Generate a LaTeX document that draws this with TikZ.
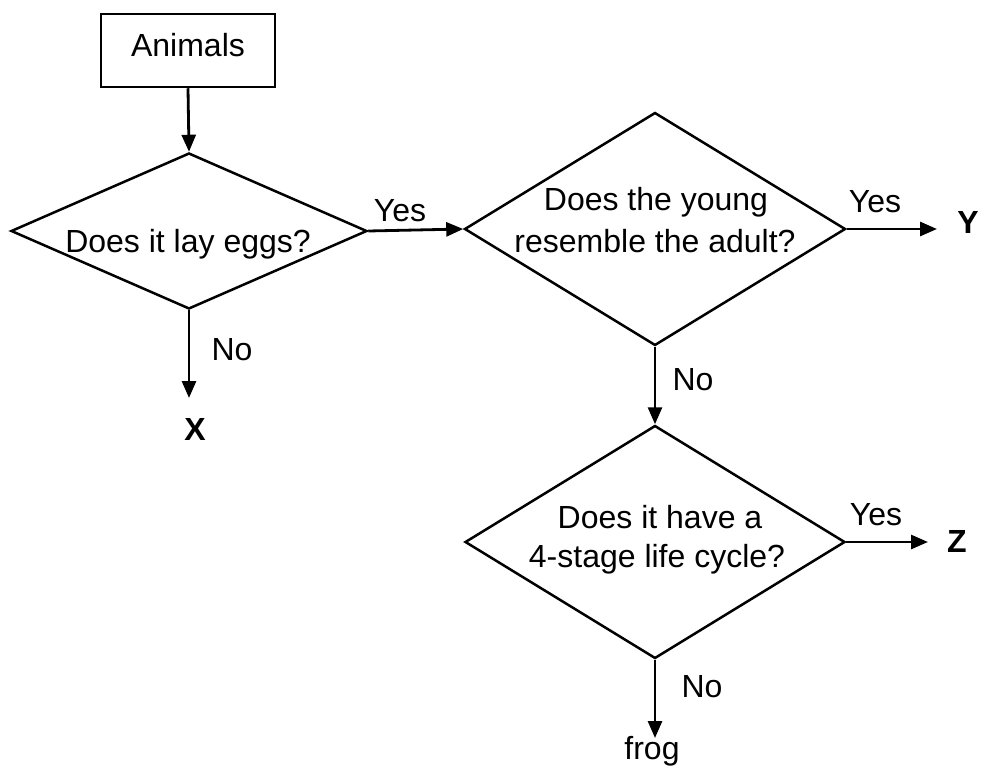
\documentclass[tikz,border=0pt]{standalone}
\usepackage{fontspec}
\setmainfont{Liberation Sans}
\usetikzlibrary{shapes.geometric,arrows.meta}
\begin{document}
\begin{tikzpicture}[x=1pt,y=-1pt,
  shapeline/.style={draw=black, line width=2.5pt},
  decision/.style={shapeline, diamond, inner sep=0pt},
  arr/.style={-{Triangle[length=17pt,width=14pt]}, line width=2.8pt},
  txt/.style={font=\fontsize{32}{38}\selectfont, inner sep=0pt, anchor=base},
  outcome/.style={txt, font=\fontsize{32}{38}\selectfont\bfseries}]
\fill[white] (0,0) rectangle (981,770);
\useasboundingbox (0,0) rectangle (981,770);

% start box
\node[shapeline, minimum width=174pt, minimum height=73pt, text height=23pt,
      text depth=10pt, inner sep=0pt, font=\fontsize{32}{38}\selectfont]
      (box) at (188,50.5) {Animals};

% decisions
\node[decision, minimum width=356pt, minimum height=156pt] (d1) at (189,231) {};
\node[decision, minimum width=381pt, minimum height=233pt] (d2) at (655,229) {};
\node[decision, minimum width=380pt, minimum height=233pt] (d3) at (655,542) {};

% decision texts
\node[txt] (t1)  at (188,252) {Does it lay eggs?};
\node[txt] (t2a) at (656,210) {Does the young};
\node[txt] (t2b) at (655,252) {resemble the adult?};
\node[txt] (t3a) at (660,528) {Does it have a};
\node[txt] (t3b) at (657,567) {4-stage life cycle?};

% arrow ends
\coordinate (xe) at (d1.south |- 0,398);
\coordinate (ye) at (937,0 |- d2.east);
\coordinate (ze) at (928,0 |- d3.east);
\coordinate (fe) at (d3.south |- 0,738);

% outcomes
\node[outcome] (X) at (195,440) {X};
\node[outcome] (Y) at (968,233) {Y};
\node[outcome] (Z) at (957,552) {Z};
\node[txt] (frog) at (652,759) {frog};

% connectors
\draw[arr] (box.south) -- (d1.north);
\draw[arr] (d1.east) -- (d2.west);
\draw[arr] (d1.south) -- (xe);
\draw[arr] (d2.east) -- (ye);
\draw[arr] (d2.south) -- (d3.north);
\draw[arr] (d3.east) -- (ze);
\draw[arr] (d3.south) -- (fe);

% edge labels
\node[txt] (yes1) at (400,221) {Yes};
\node[txt] (no1)  at (232,360) {No};
\node[txt] (yes2) at (875,212) {Yes};
\node[txt] (no2)  at (693,390) {No};
\node[txt] (yes3) at (876,525) {Yes};
\node[txt] (no3)  at (702,697) {No};
\end{tikzpicture}
\end{document}
